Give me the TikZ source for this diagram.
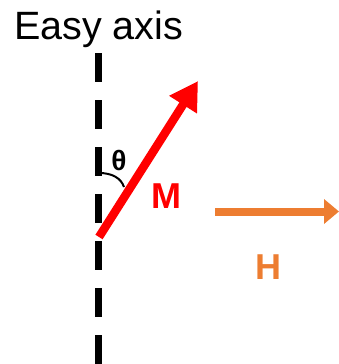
\documentclass[tikz,border=0pt]{standalone}
\usepackage{fontspec}
\setmainfont{Liberation Sans}
\usetikzlibrary{arrows.meta}
\definecolor{mred}{RGB}{255,0,0}
\definecolor{horange}{RGB}{237,125,49}
\begin{document}
\begin{tikzpicture}[x=1pt,y=-1pt,
  axisline/.style={line width=7pt,dash pattern=on 29pt off 18pt},
  mvec/.style={draw=mred,line width=8.5pt,-{Triangle[length=28pt,width=31pt]}},
  hvec/.style={draw=horange,line width=8pt,-{Triangle[length=15pt,width=24pt]}},
  lbl/.style={font=\fontsize{36}{36}\selectfont\bfseries,inner sep=0pt}]
\useasboundingbox (0,0) rectangle (339,364);
\node[anchor=base west,inner sep=0pt,font=\fontsize{39.5}{39.5}\selectfont] (title) at (14,39) {Easy axis};
\coordinate (axtop) at (98.5,53);
\coordinate (axbot) at (98.5,364);
\draw[axisline] (axtop) -- (axbot);
\coordinate (mtail) at (99,237);
\coordinate (mtip) at (198,81);
\coordinate (arcA) at (99,173);
\coordinate (arcB) at (124,187);
\draw[line width=2pt] (arcA) .. controls (112,173) and (121,178) .. (arcB);
\draw[mvec] (mtail) -- (mtip);
\node[inner sep=0pt,font=\fontsize{28}{28}\selectfont\bfseries] (theta) at (119,160) {θ};
\node[lbl,text=mred] (M) at (166,196) {M};
\coordinate (htail) at (215,211.5);
\coordinate (htip) at (339,211.5);
\draw[hvec] (htail) -- (htip);
\node[lbl,text=horange] (H) at (268,267) {H};
\end{tikzpicture}
\end{document}
